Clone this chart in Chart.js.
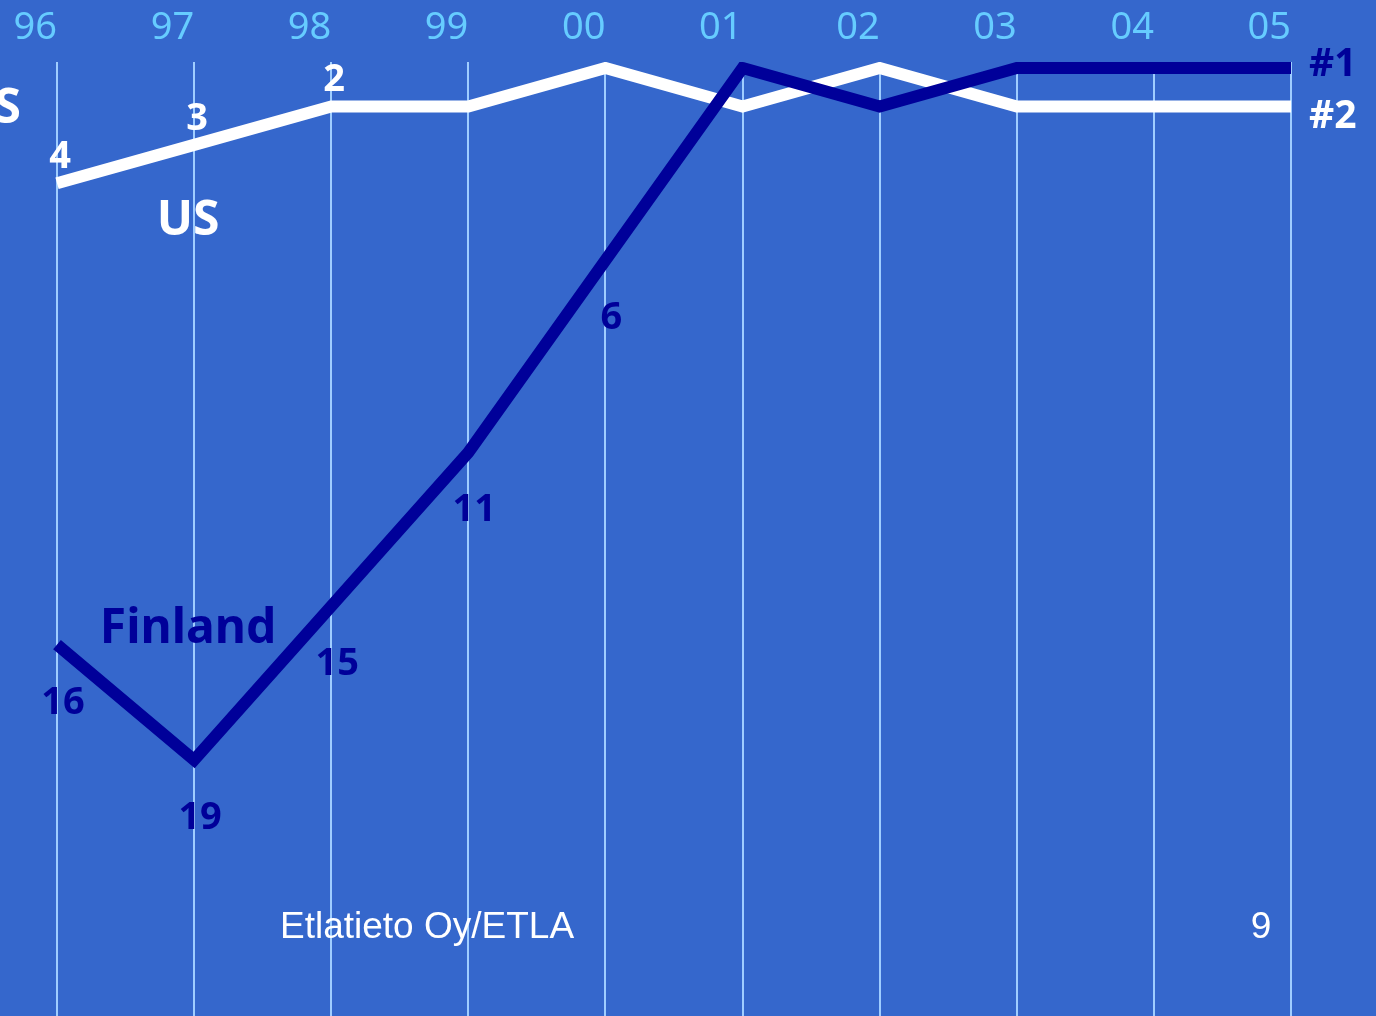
<!DOCTYPE html>
<html>
<head>
<meta charset="utf-8">
<title>Finland vs US ranking</title>
<script src="https://cdn.jsdelivr.net/npm/chart.js@4.4.1/dist/chart.umd.min.js"></script>
<style>
  html, body { margin: 0; padding: 0; background: #3567cc; overflow: hidden; }
  #wrap { width: 1376px; height: 1016px; }
</style>
</head>
<body>
<div id="wrap"><canvas id="rankChart" width="1376" height="1016"></canvas></div>
<script>
const years = ['96', '97', '98', '99', '00', '01', '02', '03', '04', '05'];
const finlandRank = [16, 19, 15, 11, 6, 1, 2, 1, 1, 1];
const usRank = [4, 3, 2, 2, 1, 2, 1, 2, 2, 2];
// which years get their rank written next to the line
const finlandLabelled = [0, 1, 2, 3, 4];
const usLabelled = [0, 1, 2];

const NAVY = '#000099';
const WHITE = '#ffffff';

// rank numbers, series names and the footer text
const annotations = {
  id: 'annotations',
  afterDatasetsDraw(chart) {
    const ctx = chart.ctx;
    const x = chart.scales.x;
    const y = chart.scales.y;
    const area = chart.chartArea;

    ctx.save();
    ctx.textAlign = 'center';
    ctx.textBaseline = 'alphabetic';
    ctx.font = 'bold 38px "Noto Sans"';

    ctx.fillStyle = NAVY;
    finlandLabelled.forEach(i => {
      ctx.fillText(String(finlandRank[i]), x.getPixelForValue(i) + 6, y.getPixelForValue(finlandRank[i]) + 69);
    });
    ctx.fillStyle = WHITE;
    usLabelled.forEach(i => {
      ctx.fillText(String(usRank[i]), x.getPixelForValue(i) + 3, y.getPixelForValue(usRank[i]) - 15);
    });

    // series names
    ctx.font = 'bold 48px "Noto Sans"';
    ctx.fillStyle = WHITE;
    ctx.fillText('US', x.getPixelForValue(1) - 6, y.getPixelForValue(usRank[1]) + 90);
    ctx.fillStyle = NAVY;
    ctx.fillText('Finland', x.getPixelForValue(1) - 6, y.getPixelForValue(finlandRank[1]) - 117);

    // leftover "US" running off the left edge
    ctx.textAlign = 'right';
    ctx.fillStyle = WHITE;
    ctx.fillText('US', 21, 123);

    // final positions
    ctx.textAlign = 'left';
    ctx.font = 'bold 39px "Noto Sans"';
    ctx.fillStyle = NAVY;
    ctx.fillText('#1', area.right + 18, y.getPixelForValue(1) + 8);
    ctx.fillStyle = WHITE;
    ctx.fillText('#2', area.right + 18, y.getPixelForValue(2) + 22);

    // footer
    ctx.font = '37px "Liberation Sans"';
    ctx.fillText('Etlatieto Oy/ETLA', 280, 938);
    ctx.textAlign = 'center';
    ctx.fillText('9', 1261, 938);
    ctx.restore();
  }
};

new Chart(document.getElementById('rankChart'), {
  type: 'line',
  data: {
    labels: years,
    datasets: [
      {
        label: 'Finland',
        data: finlandRank,
        borderColor: NAVY,
        borderWidth: 12,
        borderJoinStyle: 'miter',
        borderCapStyle: 'butt',
        pointRadius: 0,
        tension: 0,
        fill: false
      },
      {
        label: 'US',
        data: usRank,
        borderColor: WHITE,
        borderWidth: 12,
        borderJoinStyle: 'miter',
        borderCapStyle: 'butt',
        pointRadius: 0,
        tension: 0,
        fill: false
      }
    ]
  },
  options: {
    responsive: false,
    animation: false,
    layout: { padding: { left: 57, right: 85, top: 0, bottom: 0 } },
    plugins: {
      legend: { display: false },
      tooltip: { enabled: false }
    },
    scales: {
      x: {
        position: 'top',
        offset: false,
        afterFit(scale) { scale.height = 62; },
        grid: { color: '#9fcdff', lineWidth: 2, drawTicks: false },
        border: { display: false },
        ticks: {
          color: '#66ccff',
          align: 'end',
          padding: 11,
          font: { family: '"Noto Sans"', size: 38 }
        }
      },
      y: {
        display: false,
        reverse: true,
        min: 0.844,
        max: 25.66
      }
    }
  },
  plugins: [annotations]
});
</script>
</body>
</html>
